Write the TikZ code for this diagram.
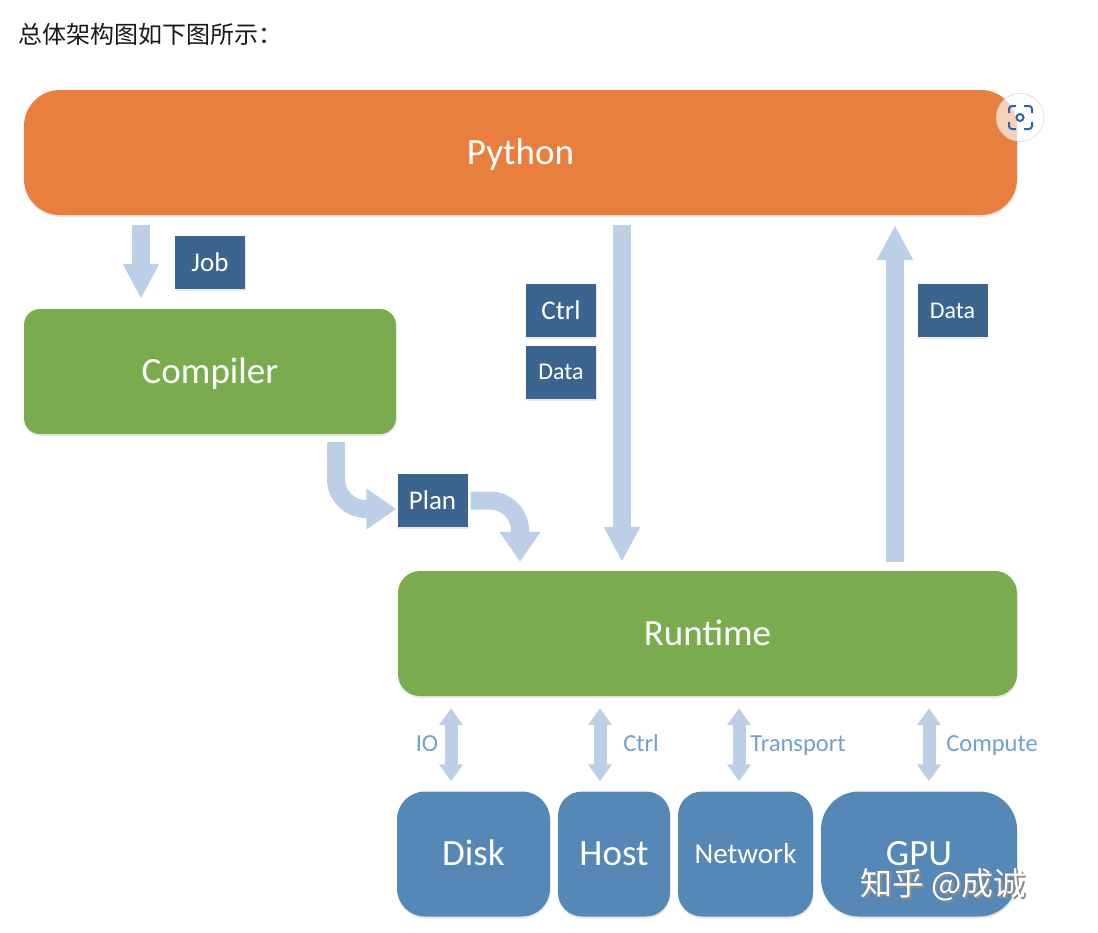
\documentclass[tikz,border=0pt]{standalone}
\usepackage{fontspec}
\setmainfont{Carlito}
\newfontfamily\cjkfont{Noto Sans CJK SC}
\usepackage{xcolor}
\usetikzlibrary{arrows.meta,shadows}

\definecolor{pyorange}{HTML}{E97F3E}
\definecolor{leafgreen}{HTML}{7AAC4F}
\definecolor{devblue}{HTML}{5587B7}
\definecolor{tagblue}{HTML}{3B648E}
\definecolor{flowblue}{HTML}{BCCFE7}
\definecolor{portblue}{HTML}{6FA0CE}
\definecolor{iconblue}{HTML}{2F63B0}

\newcommand{\fsz}[1]{\fontsize{#1}{#1}\selectfont}
\newcommand{\wmark}[1]{\makebox[0pt][l]{\hspace{2pt}\raisebox{-2pt}{\color{black!45}#1}}#1}

\begin{document}
\begin{tikzpicture}[
  x=1pt, y=-1pt,
  softshadow/.style={drop shadow={opacity=0.18, shadow xshift=0.5pt, shadow yshift=-2pt}},
  block/.style={rectangle, text=white, inner sep=0pt, font=\fsz{37},
    text height=25pt, text depth=2pt, minimum height=125pt, softshadow},
  tag/.style={rectangle, fill=tagblue, text=white, inner sep=0pt, font=\fsz{27},
    minimum width=70pt, minimum height=53pt, softshadow},
  flow/.style={draw=flowblue, line width=18pt,
    -{Triangle[length=35pt, width=34pt]}},
  curveflow/.style={flow, rounded corners=30pt,
    -{Triangle[length=30pt, width=39pt]}},
  port/.style={draw=flowblue, line width=13pt,
    {Triangle[length=17pt, width=23pt]}-{Triangle[length=17pt, width=23pt]}},
  portlabel/.style={text=portblue, inner sep=0pt, font=\fsz{24.5},
    text height=16pt, text depth=0pt},
]

\useasboundingbox (0,0) rectangle (1098,932);

%% ── Heading ──────────────────────────────────────────────────────────────────
\node[inner sep=0pt, anchor=west, text=black!90, font=\fsz{24}\cjkfont] (heading)
  at (18, 34) {总体架构图如下图所示：};

%% ── Blocks ───────────────────────────────────────────────────────────────────
\node[block, fill=pyorange, minimum width=993pt, rounded corners=36pt] (python)
  at (520.5, 152.5) {Python};
\node[block, fill=leafgreen, minimum width=372pt, rounded corners=16pt] (compiler)
  at (210, 371.5) {Compiler};
\node[block, fill=leafgreen, minimum width=619pt, rounded corners=22pt] (runtime)
  at (707.5, 633.5) {Runtime};

%% Devices
\node[block, fill=devblue, minimum width=153pt, rounded corners=28pt] (disk)
  at (473.5, 854) {Disk};
\node[block, fill=devblue, minimum width=112pt, rounded corners=24pt] (host)
  at (614, 854) {Host};
\node[block, fill=devblue, minimum width=135pt, rounded corners=24pt,
      font=\fsz{29}, text height=18pt, text depth=0pt] (network)
  at (745.5, 854) {Network};
\node[block, fill=devblue, minimum width=196pt, rounded corners=38pt] (gpu)
  at (919, 854) {GPU};

%% ── Tags ─────────────────────────────────────────────────────────────────────
\node[tag] (job) at (210, 262.5) {Job};
\node[tag] (ctrl) at (561, 310.5) {Ctrl};
\node[tag, font=\fsz{24}] (datadown) at (561, 372) {Data};
\node[tag, font=\fsz{24}] (dataup) at (952.5, 310.5) {Data};
\node[tag] (plan) at (432.5, 500.5) {Plan};

%% ── Flow arrows ──────────────────────────────────────────────────────────────
\draw[flow, shorten <=10pt, shorten >=10pt]
  ([xshift=-379.5pt]python.south) -- ([xshift=-69pt]compiler.north);
\draw[flow, shorten <=10pt, shorten >=9pt]
  ([xshift=101.5pt]python.south) -- ([xshift=-85.5pt]runtime.north);
\draw[flow, shorten <=9pt, shorten >=10pt]
  ([xshift=187.5pt]runtime.north) -- ([xshift=374.5pt]python.south);

%% Curved ones through Plan
\draw[curveflow, shorten <=8pt, shorten >=1pt]
  ([xshift=126pt]compiler.south) |- ([yshift=-8.5pt]plan.west);
\draw[curveflow, shorten <=3pt, shorten >=9pt]
  (plan.east) -| ([xshift=-187.5pt]runtime.north);

%% ── Device ports ─────────────────────────────────────────────────────────────
\draw[port, shorten <=12pt, shorten >=10pt]
  ([xshift=-256.5pt]runtime.south) -- ([xshift=-22.5pt]disk.north);
\draw[port, shorten <=12pt, shorten >=10pt]
  ([xshift=-107.5pt]runtime.south) -- ([xshift=-14pt]host.north);
\draw[port, shorten <=12pt, shorten >=10pt]
  ([xshift=31.5pt]runtime.south) -- ([xshift=-6.5pt]network.north);
\draw[port, shorten <=12pt, shorten >=10pt]
  ([xshift=221.5pt]runtime.south) -- ([xshift=10pt]gpu.north);

\node[portlabel] (iolabel) at (427, 743) {IO};
\node[portlabel] (ctrllabel) at (641, 743) {Ctrl};
\node[portlabel] (transportlabel) at (798, 743) {Transport};
\node[portlabel] (computelabel) at (992, 743) {Compute};

%% ── Overlays ─────────────────────────────────────────────────────────────────
\node[text=white, inner sep=0pt, anchor=west, font=\fsz{32}\cjkfont] (watermark)
  at (860, 886) {\wmark{知乎 @成诚}};

%% Lens icon
\fill[white, opacity=0.65, draw=black!30] (1020, 117.5) circle (24);
\draw[iconblue, line width=2pt, rounded corners=3pt]
  (1009, 113) -- (1009, 106) -- (1016, 106)
  (1024, 106) -- (1032, 106) -- (1032, 113)
  (1032, 122) -- (1032, 129) -- (1024, 129)
  (1016, 129) -- (1009, 129) -- (1009, 122);
\draw[iconblue, line width=2pt] (1020, 117.5) circle (3.5);

\end{tikzpicture}
\end{document}
